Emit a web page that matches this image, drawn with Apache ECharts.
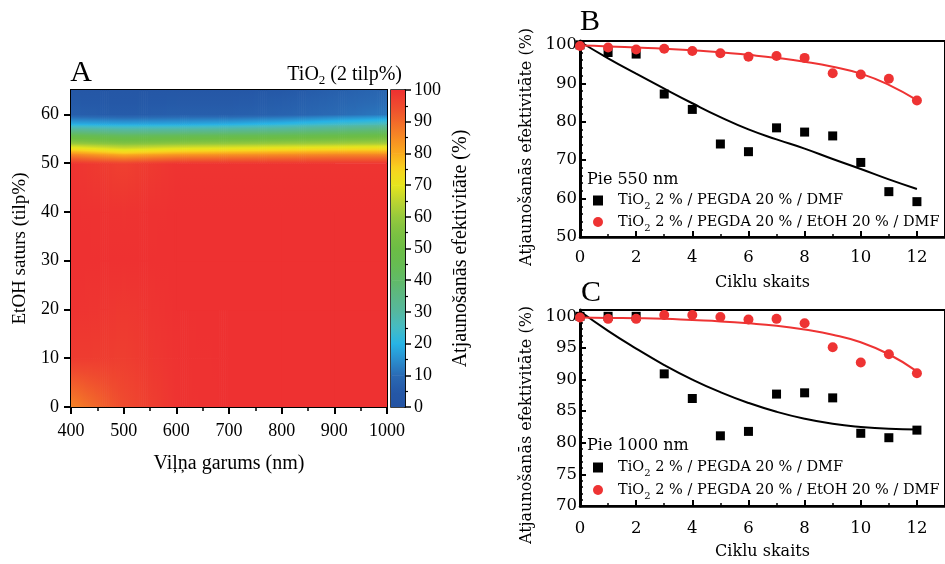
<!DOCTYPE html>
<html><head><meta charset="utf-8">
<script src="https://cdn.jsdelivr.net/npm/echarts@6/dist/echarts.min.js"></script>
<style>html,body{margin:0;padding:0;background:#fff}#c{width:945px;height:564px}</style>
</head><body><div id="c"></div>
<script>
// ---------- Panel A data: recovery efficiency (%) on a wavelength x EtOH grid ----------
const wavelengths = [400, 500, 600, 700, 800, 900, 1000];
const etohLevels = [0, 10, 20, 30, 40, 50, 52, 54, 56, 58, 60, 65];
const effRow0  = [86, 95, 99.5, 100, 100, 100, 100];
const effRow10 = [98, 97.5, 99.7, 100, 100, 100, 100];
const effRow20 = [99.7, 98.6, 100, 100, 100, 100, 100];
const effRow30 = [100, 100, 100, 100, 100, 100, 100];
const effRow40 = [100, 99.5, 100, 100, 100, 100, 100];
const effRow50 = [99.5, 97, 99.5, 99.5, 99.5, 99.5, 99.5];
const effRow52 = [84, 78, 81, 82, 83, 84, 84];
const effRow54 = [62, 58, 60, 61, 62, 63, 64];
const effRow56 = [42, 39, 40, 41, 42, 44, 46];
const effRow58 = [20, 19, 19, 20, 22, 25, 28];
const effRow60 = [7, 6, 7, 7, 8, 10, 12];
const effRow65 = [4, 4, 4, 4, 5, 7, 9];
const effGrid = [effRow0, effRow10, effRow20, effRow30, effRow40, effRow50, effRow52, effRow54, effRow56, effRow58, effRow60, effRow65];
const colorbarTicks = [0, 10, 20, 30, 40, 50, 60, 70, 80, 90, 100];

// ---------- Panels B and C ----------
const cycles = [0, 1, 2, 3, 4, 5, 6, 7, 8, 9, 10, 11, 12];
const b_dmf  = [100, 98.0, 97.6, 87.2, 83.2, 74.2, 72.2, 78.4, 77.3, 76.3, 69.4, 61.8, 59.2];
const b_etoh = [99.7, 99.3, 98.8, 99.0, 98.4, 97.8, 96.9, 97.1, 96.6, 92.6, 92.3, 91.2, 85.5];
const b_fitDmf  = [100.8, 96.5, 92.5, 88.6, 84.8, 81.2, 78.0, 75.4, 73.0, 70.3, 67.7, 65.0, 62.5];
const b_fitEtoh = [99.8, 99.6, 99.3, 99.0, 98.6, 98.1, 97.4, 96.6, 95.6, 94.3, 92.5, 89.6, 85.6];
const c_dmf  = [100.0, 100.0, 100.0, 90.9, 87.0, 81.1, 81.8, 87.7, 87.9, 87.1, 81.5, 80.8, 82.0];
const c_etoh = [99.8, 99.6, 99.6, 100.2, 100.2, 99.9, 99.5, 99.6, 98.9, 95.1, 92.7, 94.0, 91.0];
const c_fitDmf  = [100.8, 97.7, 94.9, 92.3, 90.0, 88.0, 86.3, 84.9, 83.8, 83.0, 82.5, 82.2, 82.1];
const c_fitEtoh = [99.8, 99.75, 99.7, 99.6, 99.4, 99.2, 98.9, 98.5, 97.9, 97.1, 95.9, 94.0, 91.3];
const nameDMF = 'TiO2 2 % / PEGDA 20 % / DMF';
const nameEtOH = 'TiO2 2 % / PEGDA 20 % / EtOH 20 % / DMF';

// ---------- colour map (style) ----------
const cmapStops = [
  [0,'#2453A3'],[5,'#2558A7'],[10,'#2A6AB4'],[15,'#2A8FCF'],[20,'#27B4E6'],[25,'#45BBC4'],
  [30,'#55B8A0'],[35,'#5CB885'],[40,'#61BA68'],[45,'#66BC52'],[50,'#6CBD45'],[55,'#7CC142'],
  [60,'#96C93C'],[65,'#BCD431'],[70,'#E6E51E'],[75,'#F8D51F'],[80,'#FAAC1E'],[85,'#F68B24'],
  [90,'#F26A2A'],[95,'#EF4B2F'],[100,'#EE3131']
];
const cm = cmapStops.map(s => [s[0], [parseInt(s[1].slice(1,3),16), parseInt(s[1].slice(3,5),16), parseInt(s[1].slice(5,7),16)]]);
function cmap(v) {
  v = Math.max(0, Math.min(100, v));
  for (let k = 1; k < cm.length; k++) {
    if (v <= cm[k][0]) {
      const a = cm[k-1], b = cm[k], f = (v - a[0]) / (b[0] - a[0]);
      const c = [0,1,2].map(i => Math.round(a[1][i] + (b[1][i] - a[1][i]) * f));
      return 'rgb(' + c.join(',') + ')';
    }
  }
  const l = cm[cm.length-1][1];
  return 'rgb(' + l.join(',') + ')';
}
function gradFill(vTop, vBottom) {
  if (Math.abs(vTop - vBottom) < 0.01) return cmap(vTop);
  const K = Math.min(48, Math.max(2, Math.ceil(Math.abs(vTop - vBottom) / 1.5)));
  const stops = [];
  for (let k = 0; k <= K; k++) { const f = k / K; stops.push({offset: f, color: cmap(vTop + (vBottom - vTop) * f)}); }
  return new echarts.graphic.LinearGradient(0, 0, 0, 1, stops);
}

const heatCells = [];
for (let j = 0; j < etohLevels.length - 1; j++)
  for (let i = 0; i < wavelengths.length - 1; i++)
    heatCells.push([wavelengths[i], etohLevels[j], wavelengths[i+1], etohLevels[j+1],
                    effGrid[j][i], effGrid[j][i+1], effGrid[j+1][i], effGrid[j+1][i+1]]);

function renderCell(params, api) {
  const x0 = api.value(0), y0 = api.value(1), x1 = api.value(2), y1 = api.value(3);
  const v00 = api.value(4), v10 = api.value(5), v01 = api.value(6), v11 = api.value(7);
  const pA = api.coord([x0, y0]), pB = api.coord([x1, y1]);
  const left = pA[0], right = pB[0], bottom = pA[1], top = pB[1];
  const w = right - left, h = bottom - top;
  const flatX = Math.abs(v00 - v10) < 0.01 && Math.abs(v01 - v11) < 0.01;
  const ns = flatX ? 1 : Math.max(1, Math.ceil(w / 2));
  const children = [];
  for (let s = 0; s < ns; s++) {
    const t = (s + 0.5) / ns;
    const vb = v00 + (v10 - v00) * t, vt = v01 + (v11 - v01) * t;
    children.push({type: 'rect', shape: {x: left + w * s / ns, y: top, width: w / ns + 0.7, height: h + 0.7},
                   style: {fill: gradFill(vt, vb)}});
  }
  return {type: 'group', children};
}
const cbCells = colorbarTicks.slice(0, -1).map((v, i) => [v, colorbarTicks[i+1]]);
function renderBar(params, api) {
  const v0 = api.value(0), v1 = api.value(1);
  const pA = api.coord([0, v0]), pB = api.coord([1, v1]);
  return {type: 'rect', shape: {x: pA[0], y: pB[1], width: pB[0] - pA[0], height: pA[1] - pB[1] + 0.5},
          style: {fill: gradFill(v1, v0)}};
}

const SERIF = 'Liberation Serif';
const SERIF2 = 'DejaVu Serif';
const blk = '#000';
const RED = '#EE3333';

function axisBase(extra) {
  return Object.assign({
    splitLine: {show: false},
    axisLine: {show: true, onZero: false, lineStyle: {color: blk, width: 2}},
    axisTick: {show: true, lineStyle: {color: blk, width: 1.5}},
    axisLabel: {color: blk}
  }, extra);
}
function minorAxis(extra) {
  return Object.assign({
    splitLine: {show: false},
    axisLine: {show: false},
    axisLabel: {show: false},
    axisTick: {show: true, lineStyle: {color: blk, width: 1.5}},
  }, extra);
}
const plain = v => String(v);
function fmtName(n) { return n.replace('TiO2', '{f|TiO}{s|2}{n|') + '}'; }
const legendRich = {
  f: {fontFamily: SERIF2, fontSize: 14.5, color: blk, lineHeight: 22, padding: [0,0,0,10]},
  n: {fontFamily: SERIF2, fontSize: 14.5, color: blk, lineHeight: 22},
  s: {fontFamily: SERIF2, fontSize: 10, color: blk, lineHeight: 12, verticalAlign: 'bottom'}
};
const xy = arr => cycles.map((c, i) => [c, arr[i]]);

const option = {
  animation: false,
  backgroundColor: '#fff',
  grid: [
    {left: 71, top: 90, width: 316, height: 317, show: true, borderColor: blk, borderWidth: 2, backgroundColor: 'transparent'},
    {left: 391, top: 90, width: 14, height: 317, show: true, borderColor: blk, borderWidth: 1.5, backgroundColor: 'transparent'},
    {left: 580, top: 41, width: 367, height: 196, show: true, borderColor: blk, borderWidth: 2, backgroundColor: 'transparent'},
    {left: 580, top: 310, width: 367, height: 196, show: true, borderColor: blk, borderWidth: 2, backgroundColor: 'transparent'}
  ],
  xAxis: [
    axisBase({gridIndex: 0, type: 'value', min: 400, max: 1000, interval: 100, position: 'bottom',
      axisTick: {show: true, length: 7, lineStyle: {color: blk, width: 2}},
      minorTick: {show: true, splitNumber: 2, length: 4, lineStyle: {color: blk, width: 1.5}},
      axisLabel: {color: blk, fontFamily: SERIF, fontSize: 18, margin: 15, formatter: plain},
      name: 'Viļņa garums (nm)', nameLocation: 'middle', nameGap: 47,
      nameTextStyle: {fontFamily: SERIF, fontSize: 20, color: blk}}),
    {gridIndex: 1, type: 'value', min: 0, max: 1, show: false},
    axisBase({gridIndex: 2, type: 'value', min: 0, max: 13, interval: 2, position: 'bottom',
      axisTick: {show: true, inside: true, length: 6, lineStyle: {color: blk, width: 2}},
      axisLabel: {color: blk, fontFamily: SERIF2, fontSize: 16.5, margin: 12, showMaxLabel: false, formatter: plain},
      axisLine: {show: true, onZero: false, lineStyle: {color: blk, width: 2.5}},
      name: 'Ciklu skaits', nameLocation: 'middle', nameGap: 38,
      nameTextStyle: {fontFamily: SERIF2, fontSize: 16, color: blk}}),
    minorAxis({gridIndex: 2, type: 'value', min: 0, max: 13, interval: 1, position: 'bottom',
      axisTick: {show: true, inside: true, length: 3, lineStyle: {color: blk, width: 1.5}}}),
    axisBase({gridIndex: 3, type: 'value', min: 0, max: 13, interval: 2, position: 'bottom',
      axisTick: {show: true, inside: true, length: 6, lineStyle: {color: blk, width: 2}},
      axisLabel: {color: blk, fontFamily: SERIF2, fontSize: 16.5, margin: 14, showMaxLabel: false, formatter: plain},
      axisLine: {show: true, onZero: false, lineStyle: {color: blk, width: 2.5}},
      name: 'Ciklu skaits', nameLocation: 'middle', nameGap: 38,
      nameTextStyle: {fontFamily: SERIF2, fontSize: 16, color: blk}}),
    minorAxis({gridIndex: 3, type: 'value', min: 0, max: 13, interval: 1, position: 'bottom',
      axisTick: {show: true, inside: true, length: 3, lineStyle: {color: blk, width: 1.5}}})
  ],
  yAxis: [
    axisBase({gridIndex: 0, type: 'value', min: 0, max: 65, interval: 10, position: 'left',
      axisTick: {show: true, length: 7, lineStyle: {color: blk, width: 2}},
      axisLabel: {color: blk, fontFamily: SERIF, fontSize: 18, margin: 12, showMaxLabel: false},
      name: 'EtOH saturs (tilp%)', nameLocation: 'middle', nameRotate: 90, nameGap: 41,
      nameTextStyle: {fontFamily: SERIF, fontSize: 19, color: blk}}),
    axisBase({gridIndex: 1, type: 'value', min: 0, max: 100, interval: 10, position: 'right',
      axisLine: {show: true, onZero: false, lineStyle: {color: blk, width: 1.5}},
      axisTick: {show: true, length: 6, lineStyle: {color: blk, width: 1.5}},
      minorTick: {show: true, splitNumber: 2, length: 3, lineStyle: {color: blk, width: 1.2}},
      axisLabel: {color: blk, fontFamily: SERIF, fontSize: 18, margin: 9},
      name: 'Atjaunošanās efektivitāte (%)', nameLocation: 'middle', nameRotate: 90, nameGap: 46,
      nameTextStyle: {fontFamily: SERIF, fontSize: 20, color: blk}}),
    axisBase({gridIndex: 2, type: 'value', min: 50, max: 101, interval: 10, position: 'left',
      axisTick: {show: true, inside: true, length: 6, lineStyle: {color: blk, width: 2}},
      axisLine: {show: true, onZero: false, lineStyle: {color: blk, width: 3}},
      axisLabel: {color: blk, fontFamily: SERIF2, fontSize: 16.5, margin: 3, showMaxLabel: false},
      name: 'Atjaunošanās efektivitāte (%)', nameLocation: 'middle', nameRotate: 90, nameGap: 45,
      nameTextStyle: {fontFamily: SERIF2, fontSize: 16, color: blk, padding: [0, 16, 0, 0]}}),
    minorAxis({gridIndex: 2, type: 'value', min: 50, max: 101, interval: 2, position: 'left',
      axisTick: {show: true, inside: true, length: 3, lineStyle: {color: blk, width: 1.5}}}),
    axisBase({gridIndex: 3, type: 'value', min: 70, max: 101, interval: 5, position: 'left',
      axisTick: {show: true, inside: true, length: 6, lineStyle: {color: blk, width: 2}},
      axisLine: {show: true, onZero: false, lineStyle: {color: blk, width: 3}},
      axisLabel: {color: blk, fontFamily: SERIF2, fontSize: 16.5, margin: 3, showMaxLabel: false},
      name: 'Atjaunošanās efektivitāte (%)', nameLocation: 'middle', nameRotate: 90, nameGap: 45,
      nameTextStyle: {fontFamily: SERIF2, fontSize: 16, color: blk, padding: [0, 34, 0, 0]}}),
    minorAxis({gridIndex: 3, type: 'value', min: 70, max: 101, interval: 1, position: 'left',
      axisTick: {show: true, inside: true, length: 3, lineStyle: {color: blk, width: 1.5}}})
  ],
  legend: [
    {data: [nameDMF, nameEtOH], orient: 'vertical', left: 588, top: 188, itemWidth: 10, itemHeight: 10,
     itemGap: 3, selectedMode: false, formatter: fmtName, textStyle: {rich: legendRich}},
    {data: [nameDMF, nameEtOH], orient: 'vertical', left: 588, top: 455, itemWidth: 10, itemHeight: 10,
     itemGap: 4, selectedMode: false, formatter: fmtName, textStyle: {rich: legendRich}}
  ],
  graphic: [
    {type: 'text', x: 81, y: 73, style: {text: 'A', fontFamily: SERIF, fontSize: 30, fill: blk, align: 'center', verticalAlign: 'middle'}},
    {type: 'text', x: 402, y: 75, style: {text: '{n|TiO}{s|2}{n| (2 tilp%)}', align: 'right', verticalAlign: 'middle',
      rich: {n: {fontFamily: SERIF, fontSize: 20, fill: blk, lineHeight: 24},
             s: {fontFamily: SERIF, fontSize: 13, fill: blk, lineHeight: 14, verticalAlign: 'bottom'}}}},
    {type: 'text', x: 590, y: 22, style: {text: 'B', fontFamily: SERIF, fontSize: 30, fill: blk, align: 'center', verticalAlign: 'middle'}},
    {type: 'text', x: 591, y: 293, style: {text: 'C', fontFamily: SERIF, fontSize: 30, fill: blk, align: 'center', verticalAlign: 'middle'}},
    {type: 'text', x: 587, y: 180, style: {text: 'Pie 550 nm', fontFamily: SERIF2, fontSize: 16, fill: blk, align: 'left', verticalAlign: 'middle'}},
    {type: 'text', x: 587, y: 446, style: {text: 'Pie 1000 nm', fontFamily: SERIF2, fontSize: 16, fill: blk, align: 'left', verticalAlign: 'middle'}}
  ],
  series: [
    {type: 'custom', name: 'heat', xAxisIndex: 0, yAxisIndex: 0, data: heatCells, renderItem: renderCell, clip: true, silent: true, z: 1},
    {type: 'custom', name: 'colorbar', xAxisIndex: 1, yAxisIndex: 1, data: cbCells, renderItem: renderBar, clip: true, silent: true, z: 1},
    {type: 'line', name: 'fitB1', xAxisIndex: 2, yAxisIndex: 2, data: xy(b_fitDmf), symbol: 'none', smooth: true, lineStyle: {color: blk, width: 2}, z: 2},
    {type: 'line', name: 'fitB2', xAxisIndex: 2, yAxisIndex: 2, data: xy(b_fitEtoh), symbol: 'none', smooth: true, lineStyle: {color: RED, width: 2}, z: 2},
    {type: 'scatter', name: nameDMF, xAxisIndex: 2, yAxisIndex: 2, data: xy(b_dmf), symbol: 'rect', symbolSize: 9, itemStyle: {color: blk, opacity: 1}, z: 3},
    {type: 'scatter', name: nameEtOH, xAxisIndex: 2, yAxisIndex: 2, data: xy(b_etoh), symbol: 'circle', symbolSize: 10, itemStyle: {color: RED, opacity: 1}, z: 4},
    {type: 'line', name: 'fitC1', xAxisIndex: 4, yAxisIndex: 4, data: xy(c_fitDmf), symbol: 'none', smooth: true, lineStyle: {color: blk, width: 2}, z: 2},
    {type: 'line', name: 'fitC2', xAxisIndex: 4, yAxisIndex: 4, data: xy(c_fitEtoh), symbol: 'none', smooth: true, lineStyle: {color: RED, width: 2}, z: 2},
    {type: 'scatter', name: nameDMF, xAxisIndex: 4, yAxisIndex: 4, data: xy(c_dmf), symbol: 'rect', symbolSize: 9, itemStyle: {color: blk, opacity: 1}, z: 3},
    {type: 'scatter', name: nameEtOH, xAxisIndex: 4, yAxisIndex: 4, data: xy(c_etoh), symbol: 'circle', symbolSize: 10, itemStyle: {color: RED, opacity: 1}, z: 4}
  ]
};
const chart = echarts.init(document.getElementById('c'), null, {renderer: 'canvas', width: 945, height: 564});
chart.setOption(option);
</script>
</body></html>
